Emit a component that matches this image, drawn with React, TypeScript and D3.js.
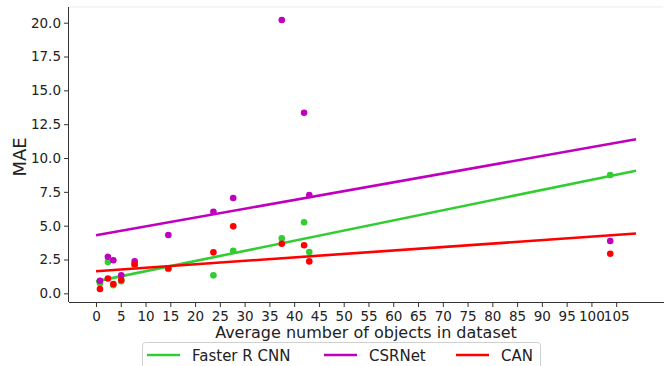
import React, { useRef, useEffect } from "react";
import * as d3 from "d3";

const objects = [0.8, 2.4, 3.5, 5.1, 7.8, 14.6, 23.7, 27.7, 37.5, 42.0, 43.05, 103.8];
const fasterRcnn = [0.75, 2.31, 0.6, 0.9, 2.1, 1.8, 1.33, 3.15, 4.06, 5.25, 3.05, 8.74];
const csrnet = [0.93, 2.7, 2.44, 1.33, 2.36, 4.31, 6.03, 7.04, 20.2, 13.35, 7.27, 3.87];
const can = [0.32, 1.1, 0.69, 0.98, 2.14, 1.85, 3.03, 4.95, 3.67, 3.55, 2.36, 2.93];

const seriesNames = ["Faster R CNN", "CSRNet", "CAN"];
const seriesColors = ["#32cd32", "#bf00bf", "#ff0000"];
const xTicks = d3.range(0, 110, 5);
const yTicks = [0, 2.5, 5, 7.5, 10, 12.5, 15, 17.5, 20];
const fitRange = [0, 109];

function fit(xs: number[], ys: number[]) {
  const mx = d3.mean(xs)!;
  const my = d3.mean(ys)!;
  let sxy = 0, sxx = 0;
  xs.forEach((x, i) => {
    sxy += (x - mx) * (ys[i] - my);
    sxx += (x - mx) * (x - mx);
  });
  const b = sxy / sxx;
  return { a: my - b * mx, b };
}

export default function App() {
  const svgRef = useRef<SVGSVGElement>(null);

  useEffect(() => {
    const svg = d3.select(svgRef.current);
    const width = 664;
    const height = 366;
    const left = 69, right = 663, top = 7, bottom = 302;
    const font = "DejaVu Sans, sans-serif";
    svg.selectAll("*").remove();

    const x = d3.scaleLinear().domain([-5.45, 114.45]).range([left, right]);
    const y = d3.scaleLinear().domain([-0.64, 21.16]).range([bottom, top]);

    svg.append("rect").attr("width", width).attr("height", height).attr("fill", "#fff");

    // faint top edge
    svg.append("line")
      .attr("x1", left).attr("x2", right).attr("y1", top).attr("y2", top)
      .attr("stroke", "#ebebeb").attr("stroke-width", 1);

    const xAxis = svg.append("g")
      .attr("transform", `translate(0,${bottom})`)
      .call(d3.axisBottom(x).tickValues(xTicks).tickSize(5).tickPadding(4).tickFormat(d3.format("d")));
    xAxis.select(".domain").attr("d", `M${left},0.5H${width}`).attr("stroke", "#333");
    xAxis.selectAll("text").attr("font-size", 13.5).attr("font-family", font).attr("fill", "#222");
    xAxis.selectAll("line").attr("stroke", "#333");

    const yAxis = svg.append("g")
      .attr("transform", `translate(${left},0)`)
      .call(d3.axisLeft(y).tickValues(yTicks).tickSize(5).tickPadding(3).tickFormat(d3.format(".1f")));
    yAxis.select(".domain").attr("d", `M-0.5,${top}V${bottom}`).attr("stroke", "#333");
    yAxis.selectAll("text").attr("font-size", 13.5).attr("font-family", font).attr("fill", "#222");
    yAxis.selectAll("line").attr("stroke", "#333");

    const data = [fasterRcnn, csrnet, can];

    data.forEach((vals, i) => {
      const { a, b } = fit(objects, vals);
      const line = d3.line<number>().x(d => x(d)).y(d => y(a + b * d));
      svg.append("path")
        .datum(fitRange)
        .attr("fill", "none")
        .attr("stroke", seriesColors[i])
        .attr("stroke-width", 2.6)
        .attr("d", line);
    });

    data.forEach((vals, i) => {
      svg.append("g").selectAll("circle")
        .data(vals)
        .join("circle")
        .attr("cx", (_, j) => x(objects[j]))
        .attr("cy", d => y(d))
        .attr("r", 3.3)
        .attr("fill", seriesColors[i]);
    });

    svg.append("text")
      .attr("x", (left + right) / 2).attr("y", 338)
      .attr("text-anchor", "middle")
      .attr("font-size", 16).attr("font-family", font).attr("fill", "#222")
      .text("Average number of objects in dataset");

    svg.append("text")
      .attr("transform", `translate(26,157) rotate(-90)`)
      .attr("text-anchor", "middle")
      .attr("font-size", 18).attr("font-family", font).attr("fill", "#222")
      .text("MAE");

    // legend
    const lg = svg.append("g");
    lg.append("rect")
      .attr("x", 142.5).attr("y", 342.5).attr("width", 398).attr("height", 34)
      .attr("rx", 3).attr("fill", "#fff").attr("stroke", "#d0d0d0");
    const colX = [147, 324, 456];
    seriesNames.forEach((name, i) => {
      lg.append("line")
        .attr("x1", colX[i]).attr("x2", colX[i] + 33)
        .attr("y1", 355).attr("y2", 355)
        .attr("stroke", seriesColors[i]).attr("stroke-width", 2.6);
      lg.append("text")
        .attr("x", colX[i] + 45).attr("y", 360.5)
        .attr("font-size", 15).attr("font-family", font).attr("fill", "#222")
        .text(name);
    });
  }, []);

  return (
    <svg
      ref={svgRef}
      width={664}
      height={366}
      style={{ position: "absolute", left: 0, top: 0, display: "block" }}
    />
  );
}
